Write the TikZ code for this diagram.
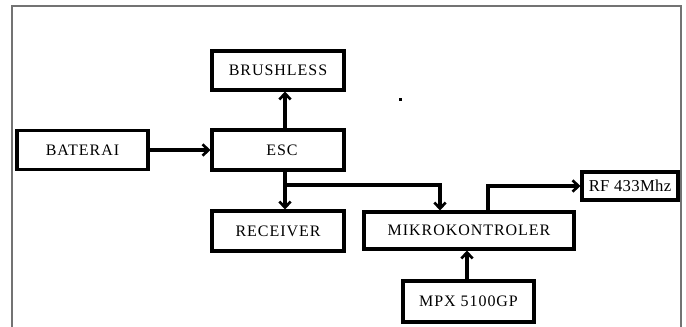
\documentclass[tikz,border=0pt]{standalone}
\usepackage{fontspec}
\setmainfont{Liberation Serif}
\usetikzlibrary{arrows.meta}
\begin{document}
\begin{tikzpicture}[x=0.75pt,y=-0.75pt,
  blk/.style={draw=black,line width=2.3pt,fill=white,inner sep=0pt,
    font=\fontsize{12}{14}\selectfont\addfontfeature{LetterSpace=6}},
  conn/.style={draw=black,line width=2.3pt,-{Straight Barb[length=4.5pt,width=8.5pt,line width=2pt]}},
  frame/.style={draw=black!55,line width=0.9pt}]
\useasboundingbox (0,0) rectangle (686,326);
\draw[frame] (12,330) -- (12,6) -- (681,6) -- (681,330);
\node[blk,minimum width=132*0.75pt,minimum height=39*0.75pt] (brush) at (278,70.5) {BRUSHLESS};
\node[blk,minimum width=131*0.75pt,minimum height=39*0.75pt] (bat) at (82.5,150) {BATERAI\hspace{12.75pt}};
\node[blk,minimum width=132*0.75pt,minimum height=40*0.75pt] (esc) at (278,150) {\hspace{6pt}ESC};
\node[blk,minimum width=132*0.75pt,minimum height=40*0.75pt] (rec) at (278,231) {RECEIVER};
\node[blk,minimum width=210*0.75pt,minimum height=37*0.75pt] (mik) at (469,230.5) {MIKROKONTROLER};
\node[blk,minimum width=96*0.75pt,minimum height=28*0.75pt,font=\fontsize{12.5}{14}\selectfont\addfontfeature{LetterSpace=2}] (rf) at (630,186) {RF 433Mhz};
\node[blk,minimum width=131*0.75pt,minimum height=41*0.75pt] (mpx) at (468.5,301.5) {MPX 5100GP};
\coordinate (xa) at (285,0);
\coordinate (xb) at (440,185);
\coordinate (xc) at (488,0);
\coordinate (xd) at (467,0);
\fill[black] (398.5,97.5) rectangle (401.5,100.5);
\draw[conn] (esc.north -| xa) -- (brush.south -| xa);
\draw[conn] (bat.east) -- (esc.west);
\draw[conn] (esc.south -| xa) -- (rec.north -| xa);
\draw[conn] (esc.south -| xa) |- (xb) -- (mik.north -| xb);
\draw[conn] (mik.north -| xc) |- (rf.west);
\draw[conn] (mpx.north -| xd) -- (mik.south -| xd);
\end{tikzpicture}
\end{document}
